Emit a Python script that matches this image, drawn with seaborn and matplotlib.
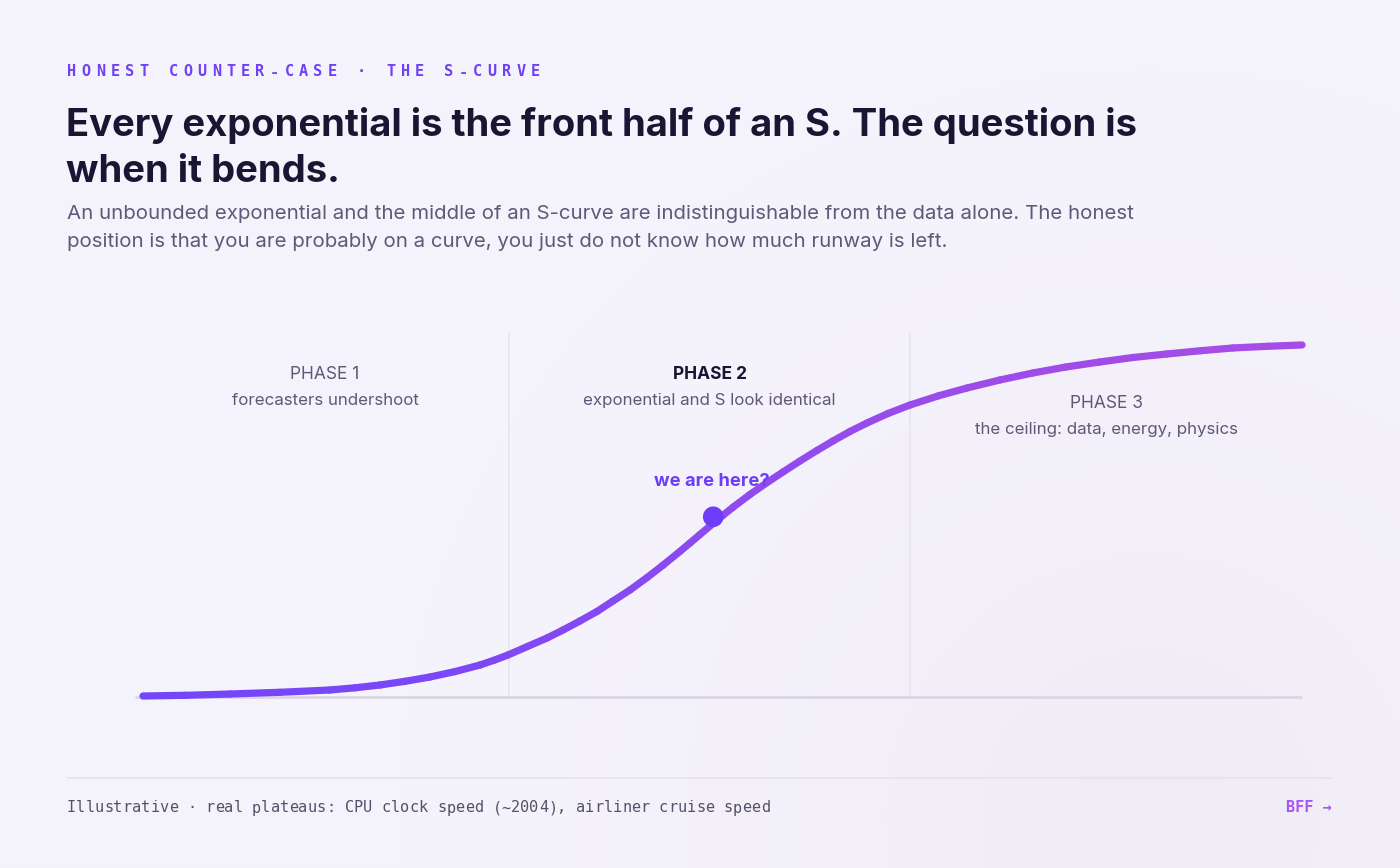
import numpy as np
import pandas as pd
import matplotlib
matplotlib.use("Agg")
import matplotlib.pyplot as plt
import matplotlib.colors as mcolors
import seaborn as sns

# curve: time (0-100) vs capability (0-100)
curve_x = [0.0, 3.62, 7.51, 11.82, 16.13, 18.29, 20.45, 22.61, 24.76, 26.92,
           29.08, 30.28, 31.49, 33.13, 34.86, 36.24, 37.70, 39.17, 40.55, 42.02,
           43.49, 44.87, 46.33, 47.20, 48.06, 49.18, 50.04, 50.91, 52.37, 53.84,
           55.22, 56.69, 58.15, 59.53, 61.00, 62.47, 64.28, 66.18, 68.59, 71.10,
           73.94, 76.79, 79.64, 82.57, 85.42, 88.35, 91.20, 94.05, 97.07, 100.0]
curve_y = [0.28, 0.48, 0.85, 1.34, 1.99, 2.61, 3.41, 4.46, 5.68, 7.22,
           9.09, 10.43, 11.93, 14.29, 16.76, 19.03, 21.59, 24.29, 27.27, 30.40,
           33.93, 37.45, 41.36, 43.76, 46.17, 49.28, 51.62, 53.91, 57.53, 60.91,
           63.92, 67.05, 70.03, 72.73, 75.43, 77.84, 80.54, 82.95, 85.51, 87.78,
           90.06, 92.05, 93.75, 95.17, 96.45, 97.44, 98.35, 99.15, 99.63, 100.0]

here_x = [49.2]
here_y = [51.2]

phase_edges = [31.6, 66.2]
phase_names = ["PHASE 1", "PHASE 2", "PHASE 3"]
phase_notes = ["forecasters undershoot", "exponential and S look identical",
               "the ceiling: data, energy, physics"]
phase_centers = [15.7, 48.9, 83.1]
phase_label_y = [91.5, 91.5, 83.5]

eyebrow = "HONEST COUNTER-CASE · THE S-CURVE"
title = "Every exponential is the front half of an S. The question is\nwhen it bends."
subtitle = ("An unbounded exponential and the middle of an S-curve are indistinguishable from the data alone. The honest\n"
            "position is that you are probably on a curve, you just do not know how much runway is left.")
footer = "Illustrative · real plateaus: CPU clock speed (~2004), airliner cruise speed"

BG = "#f5f3fc"
INK = "#1b1433"
MUTED = "#5f5878"
VIOLET = "#6e3df7"
PURPLE = "#a855f7"

sns.set_theme(style="white")
plt.rcParams["font.family"] = ["Inter", "DejaVu Sans"]

W, H = 1400, 868
fig = plt.figure(figsize=(14, 8.68), dpi=100, facecolor=BG)

def px(x, y):
    return x / W, 1 - y / H

# faint wash toward the lower right
bg = fig.add_axes([0, 0, 1, 1], zorder=-10)
gx, gy = np.meshgrid(np.linspace(0, W, 700), np.linspace(0, H, 434))
d = np.clip(1 - np.hypot(gx - 1150, gy - 820) / 750, 0, 1) ** 1.3
c0 = np.array(mcolors.to_rgb(BG))
c1 = np.array(mcolors.to_rgb("#f0ecf6"))
img = c0 + (c1 - c0) * d[..., None]
bg.imshow(img, extent=[0, W, H, 0], aspect="auto", interpolation="bilinear")
bg.set_axis_off()

# plot area: x px 135..1302, y px 333..697
ax = fig.add_axes([135 / W, 1 - 697 / H, (1302 - 135) / W, (697 - 333) / H])
ax.patch.set_alpha(0)
ax.set_xlim(-0.69, 100)
ax.set_ylim(0, 103.4)
ax.set_axis_off()

# phase dividers and baseline
for e in phase_edges:
    ax.axvline(e, color="#e6e2ee", lw=1.1, zorder=1)
ax.plot([-0.69, 100], [0, 0], color="#dad6e3", lw=2, clip_on=False, zorder=1,
        solid_capstyle="butt")

# gradient curve, one seaborn line per segment
cmap = mcolors.LinearSegmentedColormap.from_list("sc", ["#7446f9", "#a64de6"])
rows = []
for i in range(len(curve_x) - 1):
    for j in (i, i + 1):
        rows.append({"seg": i, "x": curve_x[j], "y": curve_y[j]})
seg_df = pd.DataFrame(rows)
n_seg = len(curve_x) - 1
pal = [mcolors.to_hex(cmap(k / (n_seg - 1))) for k in range(n_seg)]
sns.lineplot(data=seg_df, x="x", y="y", hue="seg", palette=pal, lw=5.2,
             legend=False, sort=False, estimator=None, ax=ax,
             solid_capstyle="round", clip_on=False, zorder=3)

sns.scatterplot(x=here_x, y=here_y, s=220, color=VIOLET, edgecolor="none",
                ax=ax, zorder=5, clip_on=False)
ax.text(here_x[0] - 0.1, 61.1, "we are here?", ha="center", va="center",
        fontsize=13.2, fontweight="bold", color=VIOLET, zorder=6)

for i in range(3):
    bold = i == 1
    ax.text(phase_centers[i], phase_label_y[i], phase_names[i], ha="center",
            va="center", fontsize=12.5, color=INK if bold else MUTED,
            fontweight="bold" if bold else "normal")
    ax.text(phase_centers[i], phase_label_y[i] - 7.4, phase_notes[i],
            ha="center", va="center", fontsize=12.2, color=MUTED)

# header
mono = ["DejaVu Sans Mono"]
for i, ch in enumerate(eyebrow):
    x, y = px(67 + i * 14.5, 72)
    fig.text(x, y, ch, fontsize=11, family=mono, fontweight="bold",
             color="#7040f4", ha="left", va="center")

x, y = px(66, 107)
fig.text(x, y, title, fontsize=27.5, fontweight="bold", color=INK, ha="left",
         va="top", linespacing=1.34)
x, y = px(67, 205)
fig.text(x, y, subtitle, fontsize=14.7, color=MUTED, ha="left", va="top",
         linespacing=1.72)

# footer
fig.add_artist(plt.Line2D([67 / W, 1332 / W], [1 - 778 / H] * 2,
                          color="#e6e2ee", lw=1.2))
for i, ch in enumerate(footer):
    x, y = px(67 + i * 9.25, 808)
    fig.text(x, y, ch, fontsize=11, family=mono, color="#55506a",
             ha="left", va="center")
x, y = px(1332, 808)
fig.text(x, y, "BFF →", fontsize=11, family=mono, fontweight="bold",
         color=PURPLE, ha="right", va="center")

fig.savefig("out.png", dpi=100, facecolor=BG)
